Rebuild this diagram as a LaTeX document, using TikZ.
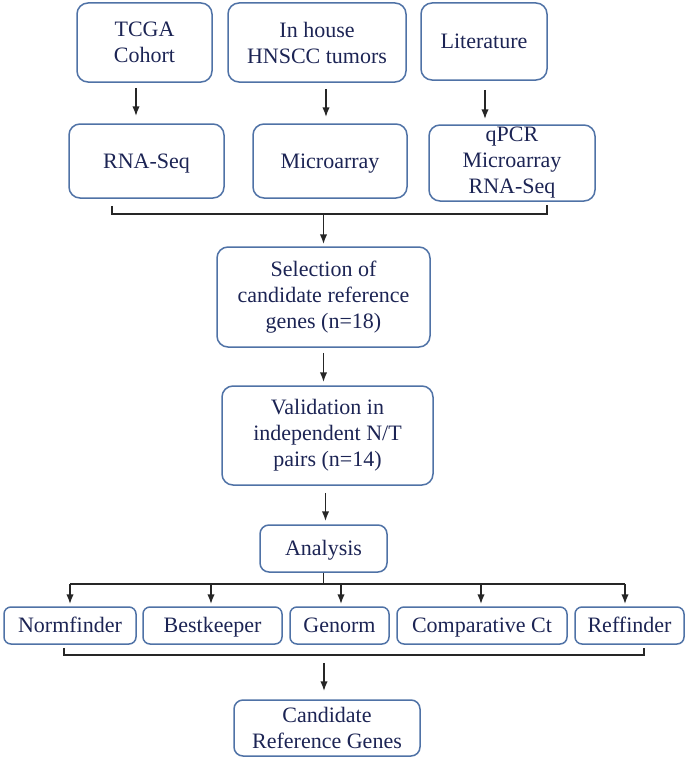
\documentclass[tikz,border=0pt]{standalone}
\usepackage{fontspec}
\setmainfont{Liberation Serif}
\usepackage{tikz}
\usetikzlibrary{calc}
\usetikzlibrary{arrows.meta}
\definecolor{boxblue}{HTML}{4F72A6}
\definecolor{textnavy}{HTML}{1C2454}
\definecolor{linegray}{HTML}{262626}
\tikzstyle{every node}=[font=\rmfamily\fontsize{22}{26}\selectfont, text=textnavy]
\tikzstyle{box}=[draw=boxblue, line width=1.5pt, rounded corners=11pt, align=center, inner sep=0pt]
\tikzstyle{smallbox}=[box, rounded corners=7pt, minimum height=37pt, text height=17pt, text depth=3pt]
\tikzstyle{link}=[draw=linegray, line width=1.7pt]

\begin{document}
\begin{tikzpicture}[x=1pt, y=-1pt, >={Latex[length=10pt,width=7.5pt]}]
\useasboundingbox (0,0) rectangle (687,760);
% data sources
\node [box, minimum width=135pt, minimum height=79pt] (tcga) at (144.5, 42.5) {TCGA\\Cohort};
\node [box, minimum width=178pt, minimum height=79pt] (inhouse) at (317, 42.5) {In house\\HNSCC tumors};
\node [box, minimum width=126pt, minimum height=77pt, text height=17pt, text depth=3pt] (lit) at (484, 41.5) {Literature};
% platforms
\node [box, minimum width=155pt, minimum height=74pt, text height=17pt, text depth=3pt] (rnaseq) at (146.5, 161) {RNA-Seq};
\node [box, minimum width=154pt, minimum height=74pt, text height=17pt, text depth=3pt] (microarray) at (330, 161) {Microarray};
\node [box, minimum width=166pt, minimum height=76pt] (qpcr) at (512, 163) {qPCR\\Microarray\\RNA-Seq};
\draw [link, ->, shorten <=5pt, shorten >=7pt] ([xshift=-8.5pt]tcga.south) -- ([xshift=-8.5pt]tcga.south |- rnaseq.north);
\draw [link, ->, shorten <=6pt, shorten >=6pt] ([xshift=9pt]inhouse.south) -- ([xshift=9pt]inhouse.south |- microarray.north);
\draw [link, ->, shorten <=9pt, shorten >=5pt] ([xshift=1pt]lit.south) -- ([xshift=1pt]lit.south |- qpcr.north);
% merge
\draw [link] ($(rnaseq.south)+(-34.5,7)$) -- ++(0,8) coordinate (topjoin) -| ($(qpcr.south)+(35,3)$);
\node [box, minimum width=213pt, minimum height=100pt] (selection) at (323.5, 297) {Selection of\\candidate reference\\genes (n=18)};
\node [box, minimum width=211pt, minimum height=99pt] (validation) at (327.5, 435.5) {Validation in\\independent N/T\\pairs (n=14)};
\node [box, minimum width=127pt, minimum height=47pt, rounded corners=9pt, text height=17pt, text depth=3pt] (analysis) at (323.5, 548.5) {Analysis};
\draw [link, ->, shorten >=2pt] (selection.north |- topjoin) -- (selection.north);
\draw [link, ->, shorten <=5pt, shorten >=3pt] (selection.south) -- (selection.south |- validation.north);
\draw [link, ->, shorten <=7pt, shorten >=3pt] ([xshift=-2pt]validation.south) -- ([xshift=-2pt]validation.south |- analysis.north);
% methods
\node [smallbox, minimum width=132pt] (normfinder) at (70, 625.5) {Normfinder};
\node [smallbox, minimum width=139pt] (bestkeeper) at (212.5, 625.5) {Bestkeeper};
\node [smallbox, minimum width=99pt] (genorm) at (339.5, 625.5) {Genorm};
\node [smallbox, minimum width=170pt] (comparative) at (482, 625.5) {Comparative Ct};
\node [smallbox, minimum width=109pt] (reffinder) at (629.5, 625.5) {Reffinder};
\draw [link] (analysis.south) -- ++(0,11) coordinate (fan);
\draw [link] (fan -| normfinder.north) -- ($(fan -| reffinder.north)+(-4.5,0)$);
\foreach \n/\dx in {normfinder/0, bestkeeper/-1.5, genorm/1.5, comparative/-1, reffinder/-4.5}
  \draw [link, ->, shorten >=2pt] ($(fan -| \n.north)+(\dx,0)$) -- ($(\n.north)+(\dx,0)$);
% result
\draw [link] ($(normfinder.south)+(-6,3)$) -- ++(0,7) coordinate (botjoin) -| ($(reffinder.south)+(14.5,3)$);
\node [box, minimum width=186pt, minimum height=56pt, rounded corners=9pt] (candidate) at (327, 728) {Candidate\\Reference Genes};
\draw [link, ->, shorten <=8pt, shorten >=8pt] ([xshift=-3pt]candidate.north |- botjoin) -- ([xshift=-3pt]candidate.north);
\end{tikzpicture}
\end{document}
